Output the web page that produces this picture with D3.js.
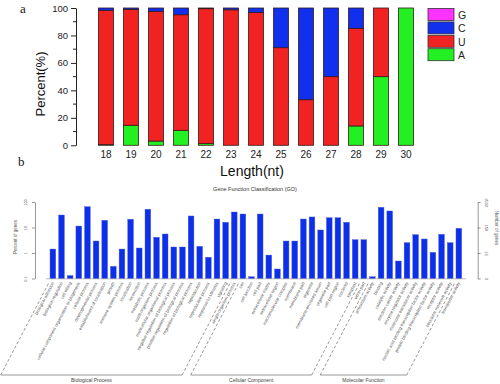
<!DOCTYPE html>
<html>
<head>
<meta charset="utf-8">
<script src="https://cdn.jsdelivr.net/npm/d3@7"></script>
<style>
  html, body { margin: 0; padding: 0; background: #fff; }
  svg { display: block; font-family: "Liberation Sans", Arial, sans-serif; }
</style>
</head>
<body>
<svg id="chart" width="500" height="384"></svg>
<script>
// ---------- Panel a data ----------
const lengths = ["18","19","20","21","22","23","24","25","26","27","28","29","30"];
const baseA = [0.5, 14.6, 3.1, 10.9, 1.2, 0, 0, 0, 0, 0, 14.1, 50, 100];
const baseU = [97.8, 84.4, 94.5, 84.2, 98.3, 98.7, 96.8, 71.1, 33.2, 50, 71.1, 50, 0];
const baseC = [1.7, 1.0, 2.4, 4.9, 0.5, 1.3, 3.2, 28.9, 66.8, 50, 14.8, 0, 0];
const baseG = [0, 0, 0, 0, 0, 0, 0, 0, 0, 0, 0, 0, 0];
const percentTicks = [0, 20, 40, 60, 80, 100];
const legendKeys = ["G", "C", "U", "A"];

// ---------- Panel b data ----------
const goTerms = [
  "biological adhesion","biological regulation","cell killing",
  "cellular component organization or biogenesis","cellular process",
  "developmental process","establishment of localization","growth",
  "immune system process","localization","locomotion","metabolic process",
  "multi-organism process","multicellular organismal process",
  "negative regulation of biological process","positive regulation of biological process",
  "regulation of biological process","reproduction","reproductive process",
  "response to stimulus","signaling","single-organism process",
  "cell","cell junction","cell part","extracellular matrix","extracellular region",
  "macromolecular complex","membrane","membrane part","organelle","membrane-enclosed lumen",
  "organelle part","cell part region","nucleoid","symplast","virion part",
  "antioxidant activity","binding","catalytic activity","electron carrier activity",
  "enzyme regulator activity","molecular transducer activity",
  "nucleic acid binding transcription factor activity",
  "protein binding transcription factor activity","receptor activity",
  "structural molecule activity","transporter activity"
];
const goValues = [
  1.43, 30.9, 0.13, 11.4, 65.4, 2.95, 19.2, 0.30, 1.43, 21.0, 1.57, 51.8,
  4.13, 5.56, 1.72, 1.72, 28.3, 1.83, 0.68, 21.5, 16.0, 40.5,
  33.8, 0.117, 33.8, 0.83, 0.236, 2.95, 2.95, 21.5, 25.9, 8.0, 24.2, 24.2, 16.0, 3.33, 3.33,
  0.117, 62.0, 44.4, 0.485, 2.54, 5.22, 3.54, 1.06, 5.41, 2.54, 9.3
];
const goGroupNames = ["Biological Process", "Cellular Component", "Molecular Function"];
const goGroupSizes = [22, 15, 11];
const leftTickValues = [0.1, 1, 10, 100];
const leftTickLabels = ["0.1", "1", "10", "100"];
const rightTickLabels = ["0", "16", "159", "1592"];

const colors = { A: "#22f022", U: "#f02222", C: "#1030ee", G: "#ff33ff" };

const svg = d3.select("#chart");

// ================= Panel a =================
const gA = svg.append("g");
const xA = d3.scaleBand().domain(lengths).range([93.5, 418.5]).paddingInner(0.4).paddingOuter(0.2);
const yA = d3.scaleLinear().domain([0, 100]).range([145.3, 8]);

const rows = lengths.map((l, i) => ({ len: l, A: baseA[i], U: baseU[i], C: baseC[i], G: baseG[i] }));
const stack = d3.stack().keys(["A", "U", "C", "G"]);
const series = stack(rows);

gA.selectAll("g.layer").data(series).join("g")
  .attr("class", "layer")
  .attr("fill", d => colors[d.key])
  .selectAll("rect").data(d => d.filter(p => p[1] - p[0] > 0)).join("rect")
  .attr("x", d => xA(d.data.len))
  .attr("width", xA.bandwidth())
  .attr("y", d => yA(d[1]))
  .attr("height", d => yA(d[0]) - yA(d[1]))
  .attr("stroke", "#3a1a1a")
  .attr("stroke-width", 0.8);

// y axis
const axA = gA.append("g").attr("transform", "translate(76,0)")
  .call(d3.axisLeft(yA).tickValues(percentTicks).tickSize(5).tickSizeOuter(0).tickPadding(3));
axA.select(".domain").attr("stroke", "#222");
axA.selectAll(".tick line").attr("stroke", "#222");
axA.selectAll(".tick text").attr("font-size", 9.5).attr("fill", "#222")
  .attr("font-family", "Liberation Sans, Arial, sans-serif");
// minor ticks
gA.append("g").selectAll("line").data([10, 30, 50, 70, 90]).join("line")
  .attr("x1", 73).attr("x2", 76).attr("y1", d => yA(d)).attr("y2", d => yA(d))
  .attr("stroke", "#222");

// x labels
gA.append("g").selectAll("text").data(lengths).join("text")
  .attr("x", d => xA(d) + xA.bandwidth() / 2)
  .attr("y", 158)
  .attr("text-anchor", "middle")
  .attr("font-size", 10)
  .attr("fill", "#222")
  .text(d => d);

gA.append("text").attr("x", 252).attr("y", 176).attr("text-anchor", "middle")
  .attr("font-size", 14).attr("fill", "#111").text("Length(nt)");
gA.append("text").attr("transform", "translate(45,84) rotate(-90)").attr("text-anchor", "middle")
  .attr("font-size", 13).attr("fill", "#111").text("Percent(%)");
svg.append("text").attr("x", 20).attr("y", 13).attr("font-family", "Liberation Serif, Times New Roman, serif")
  .attr("font-size", 13).attr("fill", "#111").text("a");
svg.append("text").attr("x", 18).attr("y", 166).attr("font-family", "Liberation Serif, Times New Roman, serif")
  .attr("font-size", 13).attr("fill", "#111").text("b");

// legend
const leg = gA.append("g").selectAll("g").data(legendKeys).join("g")
  .attr("transform", (d, i) => `translate(428,${8.5 + i * 13.4})`);
leg.append("rect").attr("width", 26).attr("height", 12).attr("fill", d => colors[d])
  .attr("stroke", "#333").attr("stroke-width", 0.8);
leg.append("text").attr("x", 30).attr("y", 10.5).attr("font-size", 10.5).attr("fill", "#222").text(d => d);

// ================= Panel b =================
const gB = svg.append("g");
const xB = d3.scaleBand().domain(goTerms.map((t, i) => i)).range([45.7, 466]).paddingInner(0.34).paddingOuter(0.5);
const yB = d3.scaleLog().domain([0.1, 100]).range([278.5, 202]);

gB.append("text").attr("x", 255).attr("y", 191).attr("text-anchor", "middle")
  .attr("font-size", 5.5).attr("fill", "#333").text("Gene Function Classification (GO)");

gB.append("g").selectAll("rect").data(goValues).join("rect")
  .attr("x", (d, i) => xB(i))
  .attr("width", xB.bandwidth())
  .attr("y", d => yB(d))
  .attr("height", d => yB(0.1) - yB(d))
  .attr("fill", "#0c30ea")
  .attr("stroke", "#4a5ad8")
  .attr("stroke-width", 0.4);

// baseline
gB.append("line").attr("x1", 46).attr("x2", 466).attr("y1", 278.8).attr("y2", 278.8)
  .attr("stroke", "#777").attr("stroke-width", 0.5);

// left axis
const axBL = gB.append("g").attr("transform", "translate(35,0)")
  .call(d3.axisLeft(yB).tickValues(leftTickValues).tickSize(3).tickSizeOuter(0).tickFormat((d, i) => leftTickLabels[i]));
axBL.select(".domain").attr("stroke", "#555").attr("stroke-width", 0.6);
axBL.selectAll(".tick line").attr("stroke", "#555").attr("stroke-width", 0.6);
axBL.selectAll(".tick text").attr("font-size", 4).attr("fill", "#555")
  .attr("transform", "rotate(-90)").attr("x", 0).attr("y", -7).attr("dy", "0").attr("text-anchor", "middle");
axBL.selectAll(".tick text").attr("transform", null)
  .each(function(d) { d3.select(this).attr("transform", `translate(-8,0) rotate(-90)`).attr("x", 0).attr("y", 0); });

// right axis
const axBR = gB.append("g").attr("transform", "translate(477.7,0)")
  .call(d3.axisRight(yB).tickValues(leftTickValues).tickSize(3).tickSizeOuter(0).tickFormat((d, i) => rightTickLabels[i]));
axBR.select(".domain").attr("stroke", "#555").attr("stroke-width", 0.6);
axBR.selectAll(".tick line").attr("stroke", "#555").attr("stroke-width", 0.6);
axBR.selectAll(".tick text").attr("font-size", 4).attr("fill", "#555")
  .attr("text-anchor", "middle").attr("dy", "0")
  .each(function() { d3.select(this).attr("transform", `translate(7,0) rotate(90)`).attr("x", 0).attr("y", 0); });

gB.append("text").attr("transform", "translate(17,237) rotate(-90)").attr("text-anchor", "middle")
  .attr("font-size", 4.5).attr("fill", "#555").text("Percent of genes");
gB.append("text").attr("transform", "translate(495,228) rotate(90)").attr("text-anchor", "middle")
  .attr("font-size", 4.5).attr("fill", "#555").text("Number of genes");

// rotated term labels
const ang = -62;
gB.append("g").selectAll("text").data(goTerms).join("text")
  .attr("transform", (d, i) => `translate(${xB(i) + xB.bandwidth() / 2 + 1.5},${283}) rotate(${ang})`)
  .attr("text-anchor", "end")
  .attr("font-size", 4.3)
  .attr("fill", "#555")
  .text(d => d);

// group brackets
let start = 0;
const dxDiag = 48, yTop = 283, yBot = 375;
goGroupSizes.forEach((n, gi) => {
  const first = start, last = start + n - 1;
  const tL = xB(first) - 1.3, tR = xB(last) - 1.3;
  const bL = tL - dxDiag, bR = tR - dxDiag;
  const g = gB.append("g").attr("stroke", "#555").attr("stroke-width", 0.6).attr("fill", "none");
  g.append("line").attr("x1", bL).attr("y1", yBot).attr("x2", tL).attr("y2", yTop).attr("stroke-dasharray", "3,2");
  g.append("line").attr("x1", bR).attr("y1", yBot).attr("x2", tR).attr("y2", yTop).attr("stroke-dasharray", "3,2");
  g.append("line").attr("x1", bL).attr("y1", yBot).attr("x2", bR).attr("y2", yBot);
  gB.append("text").attr("x", (bL + bR) / 2).attr("y", 382).attr("text-anchor", "middle")
    .attr("font-size", 5).attr("fill", "#444").text(goGroupNames[gi]);
  start += n;
});
</script>
</body>
</html>
